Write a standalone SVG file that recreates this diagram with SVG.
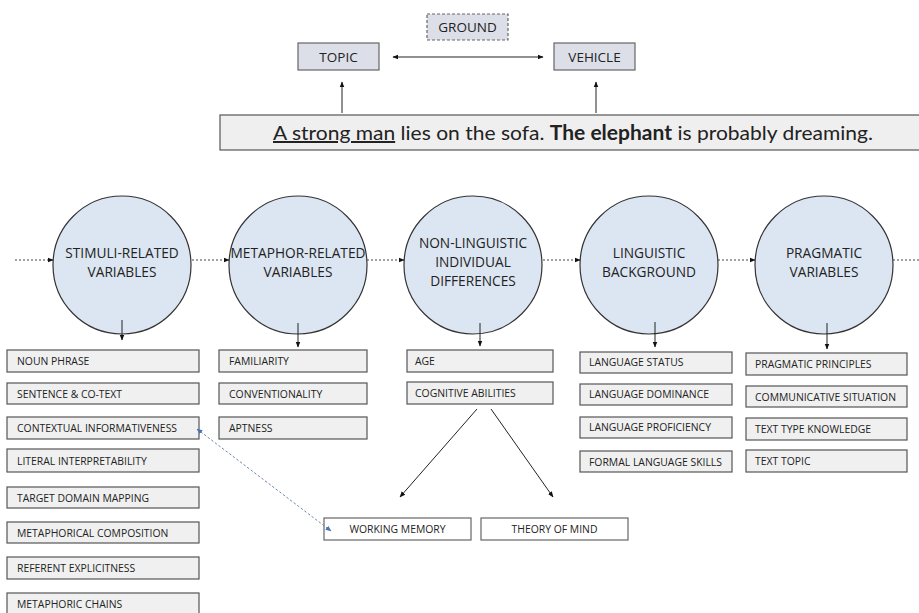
<svg xmlns="http://www.w3.org/2000/svg" width="919" height="613" viewBox="0 0 919 613">
<defs>
<marker id="ah" viewBox="0 0 10 10" refX="9" refY="5" markerWidth="6" markerHeight="6" orient="auto-start-reverse"><path d="M0,1 L10,5 L0,9 z" fill="#111"/></marker>
<marker id="ahb" viewBox="0 0 10 10" refX="9" refY="5" markerWidth="6" markerHeight="6" orient="auto-start-reverse"><path d="M0,1 L10,5 L0,9 z" fill="#4a72b8"/></marker>
<style>
.hdr{fill:#dcdfe8;stroke:#666;stroke-width:1.2}
.c{fill:#dce6f2;stroke:#333;stroke-width:1.2}
.ct{font-family:"Open Sans",sans-serif;font-size:13.7px;fill:#222;text-anchor:middle}
.b{fill:#f0f0f0;stroke:#555;stroke-width:1.2}
.w{fill:#ffffff;stroke:#666;stroke-width:1.2}
.bt{font-family:"Open Sans",sans-serif;font-size:10.4px;fill:#222}
.ht{font-family:"Open Sans",sans-serif;font-size:13.5px;fill:#222;text-anchor:middle}
.ln{stroke:#222;stroke-width:1;fill:none;marker-end:url(#ah)}
.dl{stroke:#444;stroke-width:1;stroke-dasharray:2,2;fill:none}
</style>
</defs>
<rect width="919" height="613" fill="#fff"/>

<g id="ground"><rect x="427" y="14" width="81" height="26" class="hdr" stroke-dasharray="3,2"/><text x="467.5" y="32" class="ht">GROUND</text></g>
<g id="topic"><rect x="298" y="43" width="81" height="27" class="hdr"/><text x="338.5" y="61.5" class="ht">TOPIC</text></g>
<g id="vehicle"><rect x="554" y="43" width="81" height="27" class="hdr"/><text x="594.5" y="61.5" class="ht">VEHICLE</text></g>
<g id="sentence"><rect x="220" y="115" width="705" height="35" fill="#efefef" stroke="#555" stroke-width="1.2"/>
<text x="273" y="140" font-family="Lato,sans-serif" font-size="20" fill="#222" textLength="600" lengthAdjust="spacingAndGlyphs"><tspan text-decoration="underline">A strong man</tspan> lies on the sofa. <tspan font-weight="bold">The elephant</tspan> is probably dreaming.</text></g>

<g id="c1"><circle cx="122" cy="265" r="69" class="c"/><text x="122" y="258" class="ct">STIMULI-RELATED</text><text x="122" y="277" class="ct">VARIABLES</text></g>
<g id="c2"><circle cx="298" cy="265" r="69" class="c"/><text x="298" y="258" class="ct">METAPHOR-RELATED</text><text x="298" y="277" class="ct">VARIABLES</text></g>
<g id="c3"><circle cx="473" cy="265" r="69" class="c"/><text x="473" y="248" class="ct">NON-LINGUISTIC</text><text x="473" y="267" class="ct">INDIVIDUAL</text><text x="473" y="286" class="ct">DIFFERENCES</text></g>
<g id="c4"><circle cx="649" cy="265" r="69" class="c"/><text x="649" y="258" class="ct">LINGUISTIC</text><text x="649" y="277" class="ct">BACKGROUND</text></g>
<g id="c5"><circle cx="824" cy="265" r="69" class="c"/><text x="824" y="258" class="ct">PRAGMATIC</text><text x="824" y="277" class="ct">VARIABLES</text></g>

<g id="col1">
<g id="b-noun"><rect x="7" y="350" width="192" height="22" class="b"/><text x="17" y="365" class="bt">NOUN PHRASE</text></g>
<g id="b-sent"><rect x="7" y="383" width="192" height="21" class="b"/><text x="17" y="397.5" class="bt">SENTENCE &amp; CO-TEXT</text></g>
<g id="b-ctx"><rect x="7" y="417" width="192" height="22" class="b"/><text x="17" y="432" class="bt">CONTEXTUAL INFORMATIVENESS</text></g>
<g id="b-lit"><rect x="7" y="449" width="192" height="23" class="b"/><text x="17" y="465" class="bt">LITERAL INTERPRETABILITY</text></g>
<g id="b-tgt"><rect x="7" y="487" width="192" height="21" class="b"/><text x="17" y="501.5" class="bt">TARGET DOMAIN MAPPING</text></g>
<g id="b-mc"><rect x="7" y="522" width="192" height="21" class="b"/><text x="17" y="536.5" class="bt">METAPHORICAL COMPOSITION</text></g>
<g id="b-ref"><rect x="7" y="557" width="192" height="22" class="b"/><text x="17" y="572" class="bt">REFERENT EXPLICITNESS</text></g>
<g id="b-chain"><rect x="7" y="593" width="192" height="26" class="b"/><text x="17" y="608" class="bt">METAPHORIC CHAINS</text></g>
</g>
<g id="col2">
<g id="b-fam"><rect x="219" y="350" width="148" height="22" class="b"/><text x="229" y="365" class="bt">FAMILIARITY</text></g>
<g id="b-conv"><rect x="219" y="383" width="148" height="21" class="b"/><text x="229" y="397.5" class="bt">CONVENTIONALITY</text></g>
<g id="b-apt"><rect x="219" y="417" width="148" height="22" class="b"/><text x="229" y="432" class="bt">APTNESS</text></g>
</g>
<g id="col3">
<g id="b-age"><rect x="407" y="350" width="146" height="22" class="b"/><text x="415" y="365" class="bt">AGE</text></g>
<g id="b-cog"><rect x="407" y="382" width="146" height="22" class="b"/><text x="415" y="397" class="bt">COGNITIVE ABILITIES</text></g>
<g id="b-wm"><rect x="324" y="518" width="147" height="22" class="w"/><text x="397.5" y="533" class="bt" text-anchor="middle">WORKING MEMORY</text></g>
<g id="b-tom"><rect x="481" y="518" width="147" height="22" class="w"/><text x="554.5" y="533" class="bt" text-anchor="middle">THEORY OF MIND</text></g>
</g>
<g id="col4">
<g id="b-ls"><rect x="580" y="352" width="152" height="21" class="b"/><text x="589" y="366" class="bt">LANGUAGE STATUS</text></g>
<g id="b-ld"><rect x="580" y="384" width="152" height="21" class="b"/><text x="589" y="398" class="bt">LANGUAGE DOMINANCE</text></g>
<g id="b-lp"><rect x="580" y="417" width="152" height="21" class="b"/><text x="589" y="431" class="bt">LANGUAGE PROFICIENCY</text></g>
<g id="b-fl"><rect x="580" y="451" width="152" height="21" class="b"/><text x="589" y="465.5" class="bt">FORMAL LANGUAGE SKILLS</text></g>
</g>
<g id="col5">
<g id="b-pp"><rect x="746" y="353" width="161" height="22" class="b"/><text x="755" y="368" class="bt">PRAGMATIC PRINCIPLES</text></g>
<g id="b-cs"><rect x="746" y="386" width="161" height="21" class="b"/><text x="755" y="400.5" class="bt">COMMUNICATIVE SITUATION</text></g>
<g id="b-tk"><rect x="746" y="418" width="161" height="22" class="b"/><text x="755" y="433" class="bt">TEXT TYPE KNOWLEDGE</text></g>
<g id="b-tt"><rect x="746" y="450" width="161" height="22" class="b"/><text x="755" y="465" class="bt">TEXT TOPIC</text></g>
</g>

<g id="connectors">
<line x1="393" y1="57" x2="543" y2="57" class="ln" marker-start="url(#ah)"/>
<line x1="342" y1="113" x2="342" y2="82" class="ln"/>
<line x1="596" y1="113" x2="596" y2="82" class="ln"/>
<line x1="15" y1="260" x2="53" y2="260" class="dl" marker-end="url(#ah)"/>
<line x1="192" y1="260" x2="229" y2="260" class="dl" marker-end="url(#ah)"/>
<line x1="367" y1="260" x2="404" y2="260" class="dl" marker-end="url(#ah)"/>
<line x1="543" y1="260" x2="580" y2="260" class="dl" marker-end="url(#ah)"/>
<line x1="718" y1="260" x2="755" y2="260" class="dl" marker-end="url(#ah)"/>
<line x1="893" y1="260" x2="919" y2="260" class="dl"/>
<line x1="122" y1="320" x2="122" y2="340" class="ln"/>
<line x1="298" y1="323" x2="298" y2="347" class="ln"/>
<line x1="480" y1="323" x2="480" y2="346" class="ln"/>
<line x1="655" y1="322" x2="655" y2="347" class="ln"/>
<line x1="827" y1="323" x2="827" y2="349" class="ln"/>
<line x1="477" y1="409" x2="400" y2="497" class="ln"/>
<line x1="491" y1="409" x2="553" y2="497" class="ln"/>
<line x1="197" y1="429" x2="331" y2="531" stroke="#6d87b5" stroke-width="1" stroke-dasharray="2.5,2" fill="none" marker-start="url(#ahb)" marker-end="url(#ahb)"/>
</g>
</svg>
